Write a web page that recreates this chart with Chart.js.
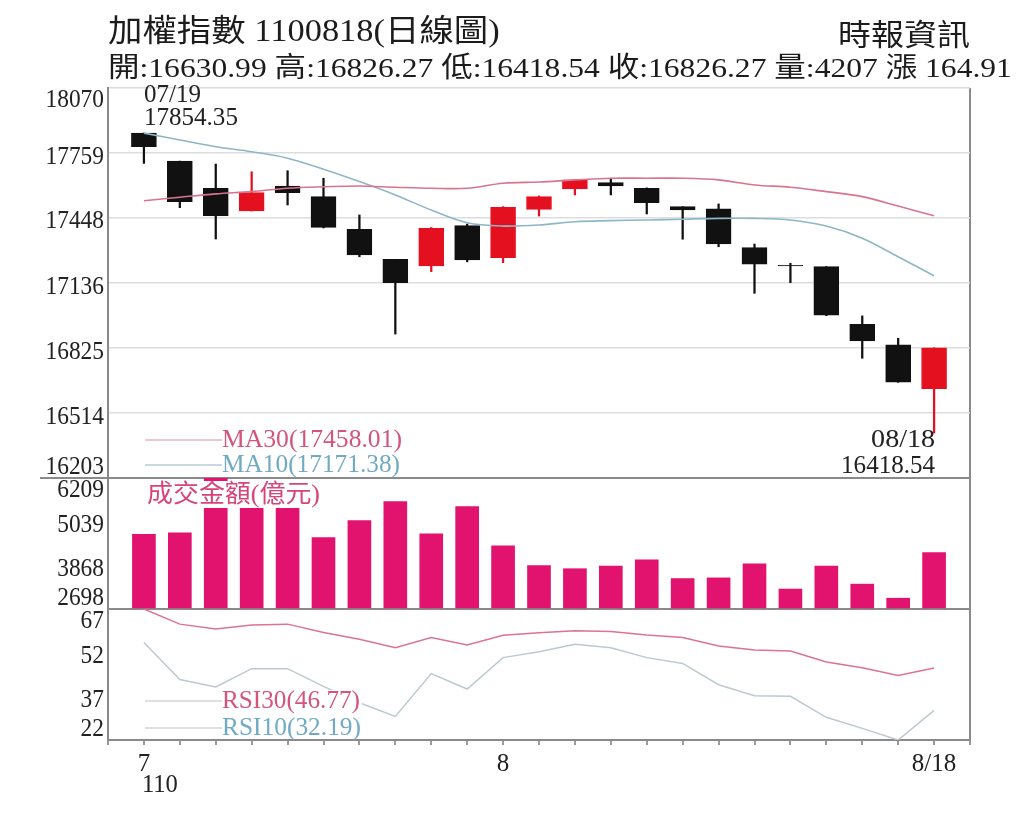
<!DOCTYPE html>
<html>
<head>
<meta charset="utf-8">
<script src="https://cdn.jsdelivr.net/npm/chart.js@4.4.1/dist/chart.umd.min.js"></script>
<style>
html, body { margin: 0; padding: 0; background: #fff; }
#wrap { position: relative; width: 1024px; height: 827px; overflow: hidden; }
#kChart { position: absolute; left: 0; top: 0; }
.hd { position: absolute; white-space: nowrap; color: #1c1c1c; font-family: 'Liberation Serif', 'Noto Sans CJK TC', serif; transform-origin: 0 0; }
</style>
</head>
<body>
<div id="wrap">
  <canvas id="kChart" width="1024" height="827"></canvas>
  <div class="hd" id="title">加權指數 1100818(日線圖)</div>
  <div class="hd" id="source">時報資訊</div>
  <div class="hd" id="quote">開:16630.99 高:16826.27 低:16418.54 收:16826.27 量:4207 漲 164.91</div>
</div>
<script>
// daily candles 7/19 - 8/18
const dates = ['07/19', '07/20', '07/21', '07/22', '07/23', '07/26', '07/27', '07/28', '07/29', '07/30',
    '08/02', '08/03', '08/04', '08/05', '08/06', '08/09', '08/10', '08/11', '08/12', '08/13', '08/16', '08/17', '08/18'];
const open  = [17854, 17720, 17590, 17481, 17601, 17550, 17393, 17250, 17218, 17411, 17258, 17489,
    17587, 17617, 17590, 17502, 17491, 17306, 17221, 17215, 16939, 16840, 16630.99];
const close = [17789, 17526, 17459, 17569, 17569, 17403, 17271, 17138, 17398, 17247, 17499, 17550,
    17630, 17601, 17521, 17486, 17323, 17227, 17218, 16983, 16859, 16661.36, 16826.27];
const high  = [17854.35, 17720, 17706, 17669, 17674, 17638, 17462, 17250, 17402, 17419, 17502, 17553,
    17633, 17638, 17592, 17502, 17515, 17323, 17231, 17215, 16979, 16872, 16826.27];
const low   = [17709, 17497, 17347, 17481, 17510, 17400, 17262, 16892, 17191, 17238, 17234, 17457,
    17558, 17558, 17467, 17346, 17310, 17087, 17138, 16980, 16776, 16661, 16418.54];

// moving averages
const ma30 = [17530, 17547, 17563, 17574, 17590, 17597, 17601, 17595, 17590, 17590, 17614, 17620,
    17630, 17638, 17638, 17638, 17630, 17606, 17595, 17574, 17550, 17505, 17458.01];
const ma10 = [17854, 17821, 17789, 17765, 17734, 17681, 17622, 17558, 17486, 17425, 17409, 17414,
    17430, 17435, 17438, 17442, 17446, 17446, 17438, 17409, 17351, 17262, 17171.38];

// turnover (億元)
const volume = [4699, 4742, 6209, 5700, 5600, 4613, 5069, 5577, 4716, 5445, 4392, 3865,
    3778, 3849, 4014, 3514, 3532, 3910, 3233, 3849, 3365, 2987, 4207];

// RSI
const rsi30 = [67, 61.8, 60.1, 61.5, 61.8, 58.9, 56.6, 53.7, 57.2, 54.6, 58.0, 58.8,
    59.5, 59.3, 58.1, 57.2, 54.3, 52.9, 52.6, 48.8, 46.8, 44.2, 46.77];
const rsi10 = [55.5, 42.8, 40.2, 46.5, 46.5, 40.4, 34.8, 30.1, 44.8, 39.5, 50.3, 52.3,
    54.9, 53.7, 50.3, 48.3, 41.0, 37.2, 37.0, 29.8, 26.0, 22.0, 32.19];

// axis ticks
const priceTicks = [16203, 16514, 16825, 17136, 17448, 17759, 18070];
const volTicks = [2698, 3868, 5039, 6209];
const rsiTicks = [22, 37, 52, 67];
const xTickIdx = [0, 10, 22];
const xTickText = ['7', '8', '8/18'];

const FONT = "'Liberation Serif', 'Noto Sans CJK TC', serif";
const UP = '#e5101f', DOWN = '#111111';
const candleColors = open.map((o, i) => close[i] >= o ? UP : DOWN);
const pts = arr => arr.map((v, i) => ({ x: i, y: v }));

// header texts, squeezed to the reference width
function fitHead(id, left, top, width, size) {
    const el = document.getElementById(id);
    el.style.fontSize = size + 'px';
    el.style.lineHeight = size + 'px';
    el.style.left = left + 'px';
    el.style.top = top + 'px';
    el.style.transform = 'scaleX(' + (width / el.offsetWidth) + ')';
}
fitHead('title', 108, 15, 392, 31);
fitHead('source', 838, 20, 132, 30);
fitHead('quote', 108, 54, 904, 28);

// draw text stretched to a given width
function fitText(ctx, str, x, y, size, color, width, align) {
    ctx.save();
    ctx.font = size + 'px ' + FONT;
    const w = ctx.measureText(str).width;
    ctx.translate(x, y);
    ctx.scale(width ? width / w : 1, 1);
    ctx.textAlign = align || 'left';
    ctx.textBaseline = 'middle';
    ctx.fillStyle = color;
    ctx.fillText(str, 0, 0);
    ctx.restore();
}

const annotate = {
    id: 'annotate',
    afterDatasetsDraw(chart) {
        const { ctx, chartArea: area, scales } = chart;
        const x = scales.x, yP = scales.y, yV = scales.yVol, yR = scales.yRsi;

        // y tick labels, kept inside their own pane
        const paneLabels = (scale, vals) => vals.forEach(v => {
            let py = scale.getPixelForValue(v) + 4;
            py = Math.min(Math.max(py, scale.top + 12), scale.bottom - 11);
            fitText(ctx, String(v), area.left - 4, py, 25, '#222', String(v).length * 11.7, 'right');
        });
        paneLabels(yP, priceTicks);
        paneLabels(yV, volTicks);
        paneLabels(yR, rsiTicks);

        // separator under the price pane runs into the label column
        ctx.save();
        ctx.strokeStyle = '#8a8a8a';
        ctx.lineWidth = 2;
        ctx.beginPath();
        ctx.moveTo(40, yP.bottom);
        ctx.lineTo(area.left, yP.bottom);
        ctx.stroke();
        ctx.restore();

        // legend rows: short line, then label on white
        const legendRow = (ly, lineColor, text, color, width) => {
            ctx.save();
            ctx.strokeStyle = lineColor;
            ctx.lineWidth = 1.5;
            ctx.beginPath();
            ctx.moveTo(area.left + 37, ly);
            ctx.lineTo(area.left + 114, ly);
            ctx.stroke();
            ctx.fillStyle = '#fff';
            ctx.fillRect(area.left + 114, ly - 11, width + 2, 22);
            ctx.restore();
            fitText(ctx, text, area.left + 114, ly, 25, color, width);
        };
        legendRow(yP.bottom - 38, '#e6b3c0', 'MA30(' + ma30[ma30.length - 1].toFixed(2) + ')', '#d4557c', 180);
        legendRow(yP.bottom - 13, '#b7cdd6', 'MA10(' + ma10[ma10.length - 1].toFixed(2) + ')', '#72aac4', 178);
        legendRow(yR.bottom - 39, '#d5d5d5', 'RSI30(' + rsi30[rsi30.length - 1].toFixed(2) + ')', '#d4557c', 138);
        legendRow(yR.bottom - 12, '#d5d5d5', 'RSI10(' + rsi10[rsi10.length - 1].toFixed(2) + ')', '#72aac4', 139);

        // turnover title on white box
        ctx.save();
        ctx.fillStyle = '#fff';
        ctx.fillRect(area.left + 37, yV.top + 3, 178, 27);
        ctx.restore();
        fitText(ctx, '成交金額(億元)', area.left + 39, yV.top + 17, 25, '#d6457a', 173);

        // highest high / lowest low notes
        const hi = high.indexOf(Math.max(...high));
        const lo = low.indexOf(Math.min(...low));
        const hx = x.getPixelForValue(hi), hy = yP.getPixelForValue(high[hi]);
        fitText(ctx, dates[hi], hx, hy - 38, 26, '#222', 57, 'left');
        fitText(ctx, high[hi].toFixed(2), hx, hy - 15, 26, '#222', 94, 'left');
        const lx = x.getPixelForValue(lo), ly = yP.getPixelForValue(low[lo]);
        fitText(ctx, dates[lo], lx + 1, ly + 7, 26, '#222', 64, 'right');
        fitText(ctx, low[lo].toFixed(2), lx + 1, ly + 33, 26, '#222', 94, 'right');

        // year under the first month
        fitText(ctx, '110', x.getPixelForValue(0) + 16, 785, 25, '#222', 36, 'center');
    }
};

const kCtx = document.getElementById('kChart').getContext('2d');
const kChart = new Chart(kCtx, {
    data: {
        datasets: [
            {
                type: 'line', label: 'MA30', data: pts(ma30), yAxisID: 'y',
                borderColor: '#d9738f', borderWidth: 1.6, pointRadius: 0, tension: 0.35, order: 0
            },
            {
                type: 'line', label: 'MA10', data: pts(ma10), yAxisID: 'y',
                borderColor: '#8db6c6', borderWidth: 1.6, pointRadius: 0, tension: 0.35, order: 0
            },
            {
                type: 'bar', label: 'body', yAxisID: 'y',
                data: dates.map((d, i) => ({ x: i, y: [open[i], close[i]] })),
                backgroundColor: candleColors, borderColor: candleColors, borderWidth: 1,
                borderSkipped: false, barThickness: 25, grouped: false, order: 1
            },
            {
                type: 'bar', label: 'wick', yAxisID: 'y',
                data: dates.map((d, i) => ({ x: i, y: [low[i], high[i]] })),
                backgroundColor: candleColors, barThickness: 1.6, grouped: false, order: 2
            },
            {
                type: 'bar', label: 'volume', yAxisID: 'yVol', data: pts(volume),
                base: volTicks[0], backgroundColor: '#e2136e', barThickness: 23, grouped: false, order: 1
            },
            {
                type: 'line', label: 'RSI30', data: pts(rsi30), yAxisID: 'yRsi',
                borderColor: '#dc7393', borderWidth: 1.5, pointRadius: 0, tension: 0, order: 0
            },
            {
                type: 'line', label: 'RSI10', data: pts(rsi10), yAxisID: 'yRsi',
                borderColor: '#bcc9cf', borderWidth: 1.5, pointRadius: 0, tension: 0, order: 0
            }
        ]
    },
    options: {
        responsive: false,
        animation: false,
        layout: { padding: { left: 48, right: 54, top: 88, bottom: 0 } },
        plugins: { legend: { display: false }, tooltip: { enabled: false } },
        scales: {
            x: {
                type: 'linear', min: -1, max: 23, offset: false,
                afterBuildTicks: s => {
                    s.ticks = [];
                    for (let v = -1; v <= 23; v++) s.ticks.push({ value: v });
                },
                afterFit: s => { s.height = 87; },
                ticks: {
                    autoSkip: false, maxRotation: 0, padding: 4, color: '#222',
                    font: { family: FONT, size: 25 },
                    callback: v => {
                        const k = xTickIdx.indexOf(v);
                        return k >= 0 ? xTickText[k] : '';
                    }
                },
                grid: {
                    offset: false,
                    color: c => (c.tick && c.tick.value === 23) ? '#8a8a8a' : 'rgba(0,0,0,0)',
                    lineWidth: 2, tickColor: '#9a9a9a', tickLength: 5
                },
                border: { display: true, color: '#8a8a8a', width: 2 }
            },
            y: {
                type: 'linear', position: 'left', stack: 'pane', stackWeight: 390, weight: 3,
                min: priceTicks[0], max: priceTicks[priceTicks.length - 1],
                afterBuildTicks: s => { s.ticks = priceTicks.map(v => ({ value: v })); },
                afterFit: s => { s.width = 60; },
                ticks: { display: false },
                grid: {
                    drawTicks: false,
                    color: c => (c.tick && c.tick.value === priceTicks[0]) ? '#8a8a8a' : '#dddddd',
                    lineWidth: c => (c.tick && c.tick.value === priceTicks[0]) ? 2 : 1.5
                },
                border: { color: '#8a8a8a', width: 2 }
            },
            yVol: {
                type: 'linear', position: 'left', stack: 'pane', stackWeight: 131, weight: 2,
                min: volTicks[0], max: volTicks[volTicks.length - 1],
                afterBuildTicks: s => { s.ticks = volTicks.map(v => ({ value: v })); },
                afterFit: s => { s.width = 60; },
                ticks: { display: false },
                grid: {
                    drawTicks: false, lineWidth: 2,
                    color: c => (c.tick && c.tick.value === volTicks[0]) ? '#8a8a8a' : 'rgba(0,0,0,0)'
                },
                border: { color: '#8a8a8a', width: 2 }
            },
            yRsi: {
                type: 'linear', position: 'left', stack: 'pane', stackWeight: 131, weight: 1,
                min: rsiTicks[0], max: rsiTicks[rsiTicks.length - 1],
                afterBuildTicks: s => { s.ticks = rsiTicks.map(v => ({ value: v })); },
                afterFit: s => { s.width = 60; },
                ticks: { display: false },
                grid: { display: false },
                border: { color: '#8a8a8a', width: 2 }
            }
        }
    },
    plugins: [annotate]
});
</script>
</body>
</html>
